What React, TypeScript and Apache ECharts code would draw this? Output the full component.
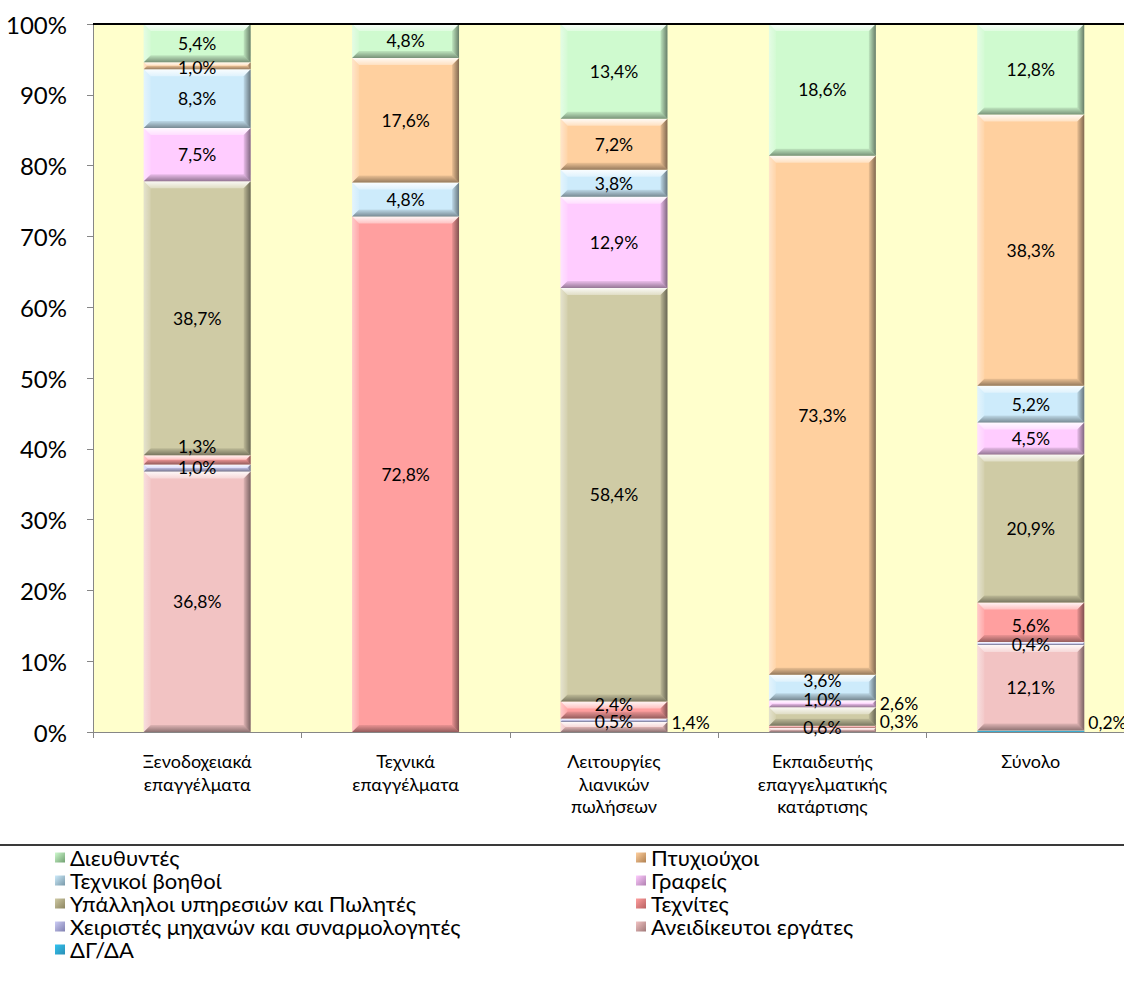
import React, { useEffect, useRef } from 'react';
import * as echarts from 'echarts';

const CATEGORIES = [
  'Ξενοδοχειακά\nεπαγγέλματα',
  'Τεχνικά\nεπαγγέλματα',
  'Λειτουργίες\nλιανικών\nπωλήσεων',
  'Εκπαιδευτής\nεπαγγελματικής\nκατάρτισης',
  'Σύνολο',
];

// stacked from bottom to top
const SERIES_NAMES = [
  'ΔΓ/ΔΑ',
  'Ανειδίκευτοι εργάτες',
  'Χειριστές μηχανών και συναρμολογητές',
  'Τεχνίτες',
  'Υπάλληλοι υπηρεσιών και Πωλητές',
  'Γραφείς',
  'Τεχνικοί βοηθοί',
  'Πτυχιούχοι',
  'Διευθυντές',
];

const DG_DA = [0, 0, 0, 0, 0.2];
const ANEIDIKEYTOI = [36.8, 0, 1.4, 0.6, 12.1];
const XEIRISTES = [1.0, 0, 0.5, 0, 0.4];
const TEXNITES = [1.3, 72.8, 2.4, 0.3, 5.6];
const YPALLILOI = [38.7, 0, 58.4, 2.6, 20.9];
const GRAFEIS = [7.5, 0, 12.9, 1.0, 4.5];
const TEXNIKOI_VOITHOI = [8.3, 4.8, 3.8, 3.6, 5.2];
const PTYXIOYXOI = [1.0, 17.6, 7.2, 73.3, 38.3];
const DIEYTHYNTES = [5.4, 4.8, 13.4, 18.6, 12.8];

const VALUES = [DG_DA, ANEIDIKEYTOI, XEIRISTES, TEXNITES, YPALLILOI, GRAFEIS, TEXNIKOI_VOITHOI, PTYXIOYXOI, DIEYTHYNTES];

const COLORS = ['#33C3F0', '#F2C3C3', '#CCCCF5', '#FF9F9F', '#CFCBA5', '#FFCCFF', '#CDEBFB', '#FFD09F', '#CFFACF'];
const LEGEND_DARK = ['#2A8FB5', '#A07878', '#8080B0', '#B86060', '#8C8460', '#B080B0', '#7898A8', '#B08050', '#70A070'];

const LEGEND_COL1 = ['Διευθυντές', 'Τεχνικοί βοηθοί', 'Υπάλληλοι υπηρεσιών και Πωλητές', 'Χειριστές μηχανών και συναρμολογητές', 'ΔΓ/ΔΑ'];
const LEGEND_COL2 = ['Πτυχιούχοι', 'Γραφείς', 'Τεχνίτες', 'Ανειδίκευτοι εργάτες'];

// label placement tweaks (series index - category index)
const LABEL_ADJUST: Record<string, { pos: 'center' | 'right'; dy: number }> = {
  '1-2': { pos: 'right', dy: -5 },
  '2-2': { pos: 'center', dy: 1 },
  '3-2': { pos: 'center', dy: -6 },
  '1-3': { pos: 'center', dy: -2 },
  '3-3': { pos: 'right', dy: -5 },
  '4-3': { pos: 'right', dy: -13 },
  '5-3': { pos: 'center', dy: -4 },
  '6-3': { pos: 'center', dy: -7 },
  '0-4': { pos: 'right', dy: -9 },
  '2-4': { pos: 'center', dy: 1 },
  '3-4': { pos: 'center', dy: 3 },
  '3-0': { pos: 'center', dy: -13 },
  '7-0': { pos: 'center', dy: 2 },
};

const FONT = "Lato, 'Open Sans', sans-serif";
const BAR_RATIO = 0.513;

const lin = (x2: number, y2: number, a: string, b: string) => ({
  type: 'linear', x: 0, y: 0, x2, y2, global: false,
  colorStops: [{ offset: 0, color: a }, { offset: 1, color: b }],
});

const fmt = (v: number) => v.toFixed(1).replace('.', ',') + '%';

export default function App() {
  const ref = useRef<HTMLDivElement>(null);
  useEffect(() => {
    if (!ref.current) return;
    const chart = echarts.init(ref.current, undefined, { renderer: 'svg' });

    const stacked: number[][][] = [];
    const cum = CATEGORIES.map(() => 0);
    VALUES.forEach((arr, s) => {
      stacked.push(arr.map((v, c) => {
        const lo = cum[c];
        cum[c] += v;
        return [c, lo, cum[c], v, s];
      }));
    });

    const geom = (api: any) => {
      const c = api.value(0), lo = api.value(1), hi = api.value(2);
      const p0 = api.coord([c, lo]);
      const p1 = api.coord([c, hi]);
      const bw = api.size([1, 0])[0] * BAR_RATIO;
      return { x: p0[0] - bw / 2, yT: p1[1], yB: p0[1], w: bw, cx: p0[0] };
    };

    const barSeries = SERIES_NAMES.map((name, s) => ({
      type: 'custom',
      name,
      itemStyle: { color: COLORS[s] },
      encode: { x: 0, y: 2 },
      data: stacked[s],
      z: 2,
      renderItem: (params: any, api: any) => {
        if (api.value(3) <= 0) return null;
        const { x, yT, yB, w } = geom(api);
        const h = yB - yT;
        const b = Math.min(7, h / 2, w / 2);
        return {
          type: 'group',
          children: [
            { type: 'rect', shape: { x, y: yT, width: w, height: h }, style: { fill: COLORS[s] } },
            { type: 'polygon', shape: { points: [[x, yT], [x + w, yT], [x + w - b, yT + b], [x + b, yT + b]] },
              style: { fill: lin(0, 1, 'rgba(255,255,255,0.9)', 'rgba(255,255,255,0.35)') } },
            { type: 'polygon', shape: { points: [[x, yT], [x + b, yT + b], [x + b, yB - b], [x, yB]] },
              style: { fill: lin(1, 0, 'rgba(255,255,255,0.45)', 'rgba(255,255,255,0.1)') } },
            { type: 'polygon', shape: { points: [[x + w, yT], [x + w, yB], [x + w - b, yB - b], [x + w - b, yT + b]] },
              style: { fill: lin(1, 0, 'rgba(0,0,0,0.08)', 'rgba(0,0,0,0.5)') } },
            { type: 'polygon', shape: { points: [[x, yB], [x + w, yB], [x + w - b, yB - b], [x + b, yB - b]] },
              style: { fill: lin(0, 1, 'rgba(0,0,0,0.08)', 'rgba(0,0,0,0.42)') } },
          ],
        };
      },
    }));

    const labelData: number[][] = [];
    stacked.forEach((arr) => arr.forEach((d) => { if (d[3] > 0) labelData.push(d); }));

    const labelSeries = {
      type: 'custom',
      name: '__labels',
      encode: { x: 0, y: 2 },
      data: labelData,
      z: 10,
      silent: true,
      renderItem: (params: any, api: any) => {
        const { x, yT, yB, w, cx } = geom(api);
        const s = api.value(4), c = api.value(0);
        const adj = LABEL_ADJUST[`${s}-${c}`] || { pos: 'center', dy: 0 };
        const cy = (yT + yB) / 2 + adj.dy;
        const right = adj.pos === 'right';
        return {
          type: 'text',
          x: right ? x + w + 4 : cx,
          y: cy,
          style: {
            text: fmt(api.value(3)),
            fill: '#000',
            fontSize: 17.5,
            lineHeight: 16,
            fontFamily: FONT,
            align: right ? 'left' : 'center',
            verticalAlign: 'middle',
          },
        };
      },
    };

    const legendBase = {
      orient: 'vertical',
      top: 846,
      padding: 0,
      itemWidth: 10,
      itemHeight: 10,
      itemGap: 0,
      icon: 'rect',
      selectedMode: false,
      textStyle: { fontSize: 22, lineHeight: 23, color: '#000', fontFamily: FONT },
    };
    const legendItems = (names: string[]) => names.map((n) => {
      const s = SERIES_NAMES.indexOf(n);
      return { name: n, itemStyle: { color: lin(1, 1, COLORS[s], LEGEND_DARK[s]) } };
    });

    chart.setOption({
      animation: false,
      backgroundColor: '#fff',
      textStyle: { fontFamily: FONT },
      grid: { left: 93, top: 24, width: 1042, height: 708, show: true, backgroundColor: '#FFFFCC', borderWidth: 0 },
      xAxis: {
        type: 'category',
        data: CATEGORIES,
        axisLine: { lineStyle: { color: '#868686', width: 1 } },
        axisTick: { show: true, length: 6, alignWithLabel: false, lineStyle: { color: '#868686' } },
        axisLabel: { color: '#000', fontSize: 18, lineHeight: 22.5, margin: 18, fontFamily: FONT, interval: 0 },
      },
      yAxis: {
        type: 'value',
        min: 0,
        max: 100,
        interval: 10,
        splitLine: { show: false },
        axisLine: { show: true, lineStyle: { color: '#868686', width: 1 } },
        axisTick: { show: true, length: 6, lineStyle: { color: '#868686' } },
        axisLabel: { color: '#000', fontSize: 24, margin: 26, formatter: '{value}%', fontFamily: FONT },
      },
      legend: [
        { ...legendBase, left: 55, data: legendItems(LEGEND_COL1) },
        { ...legendBase, left: 636, data: legendItems(LEGEND_COL2) },
      ],
      graphic: [
        { type: 'line', shape: { x1: 93, y1: 24, x2: 1136, y2: 24 }, style: { stroke: '#000', lineWidth: 2 }, z: 20 },
        { type: 'line', shape: { x1: 0, y1: 845, x2: 1136, y2: 845 }, style: { stroke: '#3A3A3A', lineWidth: 2 }, z: 20 },
      ],
      series: [...barSeries, labelSeries],
    });

    return () => chart.dispose();
  }, []);

  return (
    <div style={{ position: 'fixed', left: 0, top: 0, width: 1124, height: 983, overflow: 'hidden', background: '#fff' }}>
      <div ref={ref} style={{ width: 1136, height: 983 }} />
    </div>
  );
}
